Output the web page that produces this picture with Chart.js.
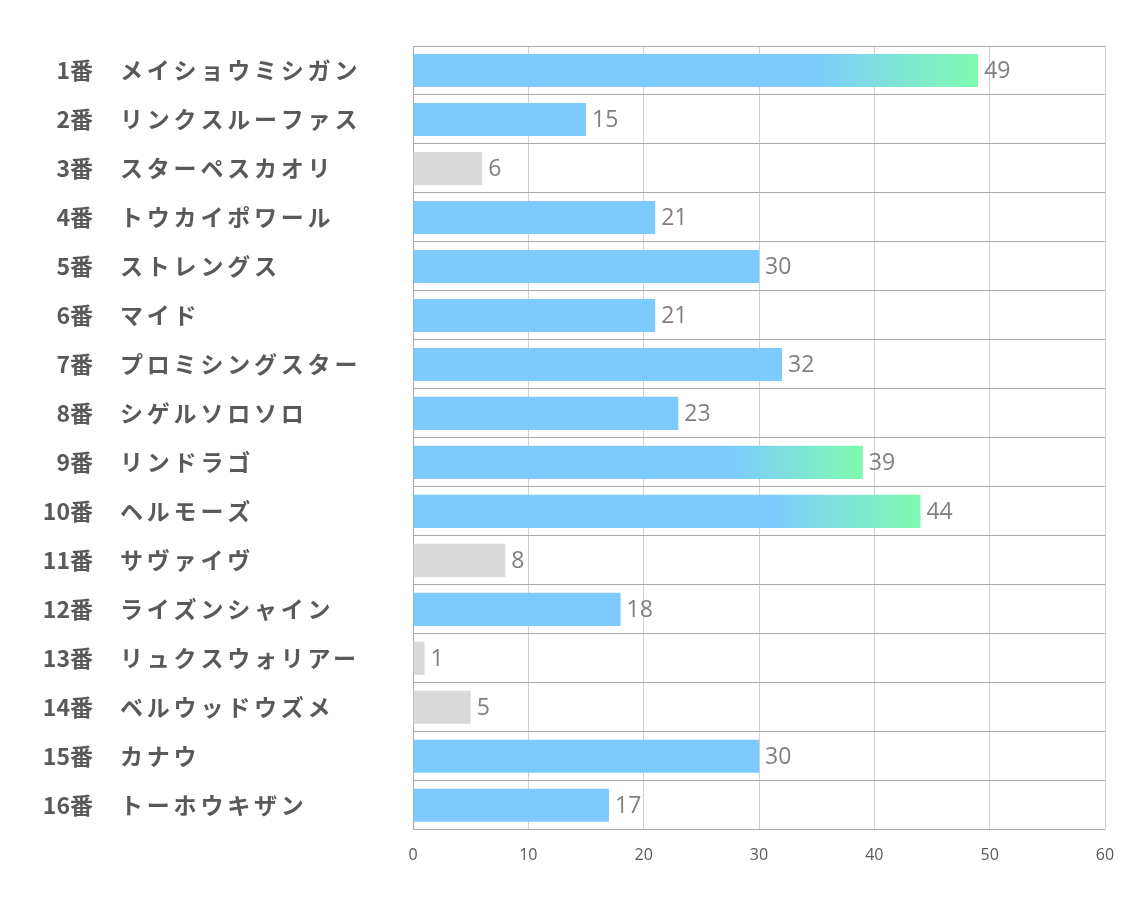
<!DOCTYPE html>
<html>
<head>
<meta charset="utf-8">
<script src="https://cdn.jsdelivr.net/npm/chart.js@4.4.1/dist/chart.umd.min.js"></script>
<style>
  html, body { margin: 0; padding: 0; background: #fff; }
  #wrap { width: 1134px; height: 907px; }
</style>
</head>
<body>
<div id="wrap"><canvas id="myChart"></canvas></div>
<script>
const numbers = ['1番','2番','3番','4番','5番','6番','7番','8番','9番','10番','11番','12番','13番','14番','15番','16番'];
const horses = ['メイショウミシガン','リンクスルーファス','スターペスカオリ','トウカイポワール','ストレングス','マイド','プロミシングスター','シゲルソロソロ','リンドラゴ','ヘルモーズ','サヴァイヴ','ライズンシャイン','リュクスウォリアー','ベルウッドウズメ','カナウ','トーホウキザン'];
const points = [49,15,6,21,30,21,32,23,39,44,8,18,1,5,30,17];
const xTicks = [0,10,20,30,40,50,60];

const BLUE = '#7ccaff';
const GREEN = '#80fbb0';
const GRAY = '#d9d9d9';
const jp = '"Noto Sans CJK JP", "Noto Sans", sans-serif';

// top 3 get the gradient, low scores are grey
const top3 = [...points].sort((a, b) => b - a).slice(0, 3);

function barColor(c) {
  const v = points[c.dataIndex];
  if (v < 10) return GRAY;
  if (!top3.includes(v)) return BLUE;
  const chart = c.chart;
  if (!chart.chartArea) return BLUE;
  const x = chart.scales.x;
  const x0 = x.getPixelForValue(0), x1 = x.getPixelForValue(v);
  const g = chart.ctx.createLinearGradient(x0, 0, x1, 0);
  g.addColorStop(0, BLUE);
  g.addColorStop(0.7, BLUE);
  g.addColorStop(1, GREEN);
  return g;
}

const labelPlugin = {
  id: 'labelPlugin',
  afterDatasetsDraw(chart) {
    const ctx = chart.ctx;
    const y = chart.scales.y;
    const meta = chart.getDatasetMeta(0);
    ctx.save();
    ctx.textBaseline = 'middle';
    numbers.forEach((n, i) => {
      const py = y.getPixelForValue(i);
      ctx.fillStyle = '#595959';
      ctx.font = 'bold 23px ' + jp;
      ctx.letterSpacing = '0px';
      ctx.textAlign = 'right';
      ctx.fillText(n, 93, py);
      ctx.textAlign = 'left';
      ctx.letterSpacing = '3.8px';
      ctx.fillText(horses[i], 120, py);
      ctx.letterSpacing = '0px';
      // value label
      const bar = meta.data[i];
      ctx.font = '23px "Open Sans", ' + jp;
      ctx.fillStyle = '#7f7f7f';
      ctx.fillText(String(points[i]), bar.x + 6, py + 1);
    });
    ctx.restore();
  }
};

let ctx = document.getElementById('myChart');
new Chart(ctx, {
  type: 'bar',
  data: {
    labels: numbers.map((n, i) => n + '　' + horses[i]),
    datasets: [{
      data: points,
      backgroundColor: barColor,
      borderWidth: 0,
      barPercentage: 0.675,
      categoryPercentage: 1
    }]
  },
  options: {
    indexAxis: 'y',
    responsive: true,
    maintainAspectRatio: false,
    animation: false,
    layout: { padding: { left: 413, right: 29, top: 46, bottom: 26 } },
    plugins: {
      legend: { display: false },
      tooltip: { enabled: false }
    },
    scales: {
      x: {
        min: 0,
        max: 60,
        afterBuildTicks: s => { s.ticks = xTicks.map(v => ({ value: v })); },
        grid: { color: '#d0d0d0', drawTicks: false },
        border: { display: false },
        ticks: {
          padding: 16,
          color: '#595959',
          font: { size: 16, family: '"Open Sans", sans-serif' }
        }
      },
      y: {
        grid: { color: '#a8a8a8', drawTicks: false, offset: true },
        border: { color: '#a8a8a8' },
        ticks: { display: false }
      }
    }
  },
  plugins: [labelPlugin]
});
</script>
</body>
</html>
